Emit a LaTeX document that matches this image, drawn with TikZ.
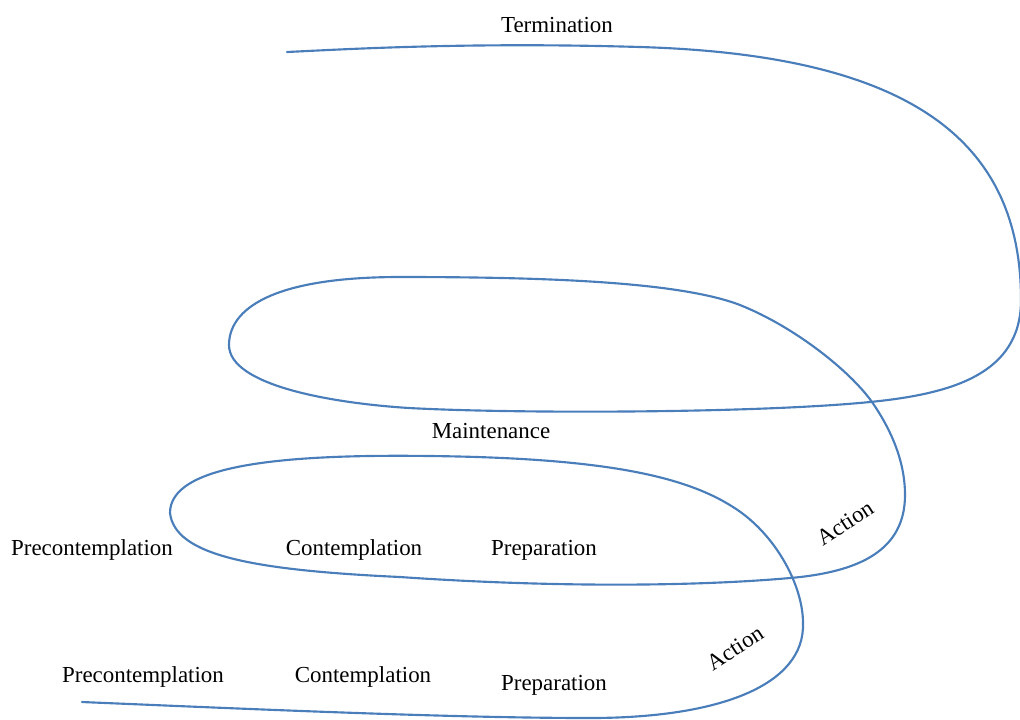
\documentclass[tikz,border=0pt]{standalone}
\usepackage{fontspec}
\setmainfont{Liberation Serif}
\definecolor{curveblue}{RGB}{74,126,187}
\begin{document}
\begin{tikzpicture}[x=0.75pt,y=-0.75pt,
  lbl/.style={font=\fontsize{17.2}{20}\selectfont, inner sep=0pt, anchor=base},
  rlbl/.style={font=\fontsize{17.2}{20}\selectfont, inner sep=0pt, anchor=center, rotate=33},
  spiral/.style={draw=curveblue, line width=1.6pt, line join=round, line cap=round}]
\useasboundingbox (0,0) rectangle (1020,719);
\coordinate (s) at (82,702);
\coordinate (e) at (287,52);
\draw[spiral] (s)
  .. controls (250,709) and (450,718) .. (590,718)
  .. controls (720,718) and (805,685) .. (803,623)
  .. controls (803,585) and (775,533) .. (733,507)
  .. controls (683,475) and (600,458) .. (430,456)
  .. controls (280,454) and (170,465) .. (170,513)
  .. controls (175,555) and (250,570) .. (400,577)
  .. controls (560,588) and (700,586) .. (790,578)
  .. controls (860,572) and (905,550) .. (905,495)
  .. controls (905,460) and (890,428) .. (872,402)
  .. controls (850,371) and (795,327) .. (740,305)
  .. controls (680,282) and (550,277) .. (400,277)
  .. controls (270,277) and (229,310) .. (229,345)
  .. controls (229,385) and (330,403) .. (409,408)
  .. controls (520,414) and (760,413) .. (870,402)
  .. controls (950,394) and (1021,375) .. (1021,300)
  .. controls (1021,140) and (910,55) .. (640,47)
  .. controls (470,42) and (350,49) .. (e);
\node[lbl] (term) at (557,32) {Termination};
\node[lbl] (maint) at (491,438) {Maintenance};
\node[lbl] (pre1) at (92,555) {Precontemplation};
\node[lbl] (con1) at (354,555) {Contemplation};
\node[lbl] (prep1) at (544,555) {Preparation};
\node[rlbl] (act1) at (845,523) {Action};
\node[lbl] (pre2) at (143,682) {Precontemplation};
\node[lbl] (con2) at (363,682) {Contemplation};
\node[lbl] (prep2) at (554,690) {Preparation};
\node[rlbl] (act2) at (735,648) {Action};
\end{tikzpicture}
\end{document}
